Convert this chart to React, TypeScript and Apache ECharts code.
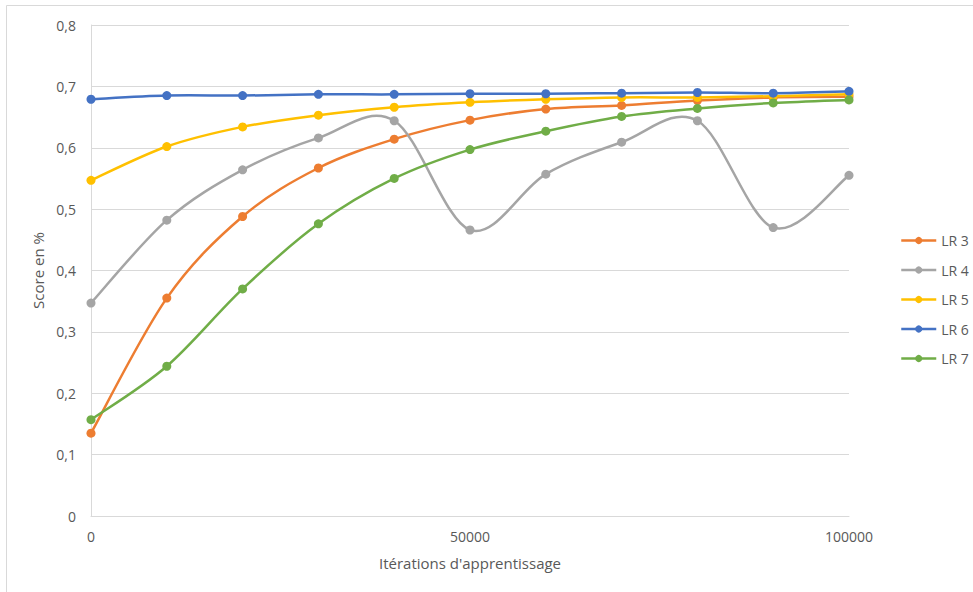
import React, { useEffect, useRef } from "react";
import * as echarts from "echarts";

const iterations = [0, 10000, 20000, 30000, 40000, 50000, 60000, 70000, 80000, 90000, 100000];
const seriesNames = ["LR 3", "LR 4", "LR 5", "LR 6", "LR 7"];
const lr3 = [0.135, 0.355, 0.488, 0.567, 0.614, 0.645, 0.663, 0.669, 0.677, 0.682, 0.683];
const lr4 = [0.347, 0.482, 0.564, 0.616, 0.644, 0.466, 0.557, 0.609, 0.644, 0.47, 0.555];
const lr5 = [0.547, 0.602, 0.634, 0.653, 0.666, 0.674, 0.679, 0.682, 0.682, 0.684, 0.687];
const lr6 = [0.679, 0.685, 0.685, 0.687, 0.687, 0.688, 0.688, 0.689, 0.69, 0.689, 0.692];
const lr7 = [0.157, 0.244, 0.37, 0.476, 0.55, 0.597, 0.627, 0.651, 0.664, 0.673, 0.678];
const colors = ["#ED7D31", "#A5A5A5", "#FFC000", "#4472C4", "#70AD47"];
const xTicks = [0, 50000, 100000];

const FONT = "'Open Sans', sans-serif";
const TXT = "#595959";

export default function App() {
  const ref = useRef<HTMLDivElement>(null);
  useEffect(() => {
    if (!ref.current) return;
    const chart = echarts.init(ref.current, undefined, { renderer: "svg" });
    const all = [lr3, lr4, lr5, lr6, lr7];
    const n = iterations.length;

    const markerSeries = seriesNames.map((name, i) => ({
      name,
      type: "line",
      data: iterations.map((x, j) => [x, all[i][j]]),
      symbol: "circle",
      symbolSize: 9,
      color: colors[i],
      lineStyle: { color: colors[i], width: 2.5, opacity: 0 },
      itemStyle: { color: colors[i] },
      z: 11 + 2 * i,
    }));

    const curveSeries = seriesNames.map((name, i) => ({
      name,
      type: "custom",
      data: iterations.slice(0, n - 1).map((x, j) => [x, all[i][j]]),
      z: 10 + 2 * i,
      silent: true,
      renderItem: (params: any, api: any) => {
        const j = params.dataIndex;
        const pt = (k: number) => {
          const kk = Math.max(0, Math.min(n - 1, k));
          return api.coord([iterations[kk], all[i][kk]]);
        };
        const p0 = pt(j - 1);
        const p1 = pt(j);
        const p2 = pt(j + 1);
        const p3 = pt(j + 2);
        return {
          type: "bezierCurve",
          shape: {
            x1: p1[0],
            y1: p1[1],
            x2: p2[0],
            y2: p2[1],
            cpx1: p1[0] + (p2[0] - p0[0]) / 6,
            cpy1: p1[1] + (p2[1] - p0[1]) / 6,
            cpx2: p2[0] - (p3[0] - p1[0]) / 6,
            cpy2: p2[1] - (p3[1] - p1[1]) / 6,
          },
          style: { fill: "none", stroke: colors[i], lineWidth: 2.5, lineCap: "round" },
        };
      },
    }));

    chart.setOption({
      animation: false,
      backgroundColor: "#ffffff",
      textStyle: { fontFamily: FONT },
      graphic: [
        {
          type: "rect",
          shape: { x: 6.5, y: 5.5, width: 1000, height: 700 },
          style: { fill: "none", stroke: "#d9d9d9", lineWidth: 1 },
          silent: true,
        },
      ],
      grid: { left: 91, right: 124, top: 25, bottom: 76 },
      legend: {
        orient: "vertical",
        left: 900,
        top: 232,
        padding: 0,
        itemWidth: 35,
        itemHeight: 9,
        itemGap: 12.5,
        data: seriesNames,
        lineStyle: { opacity: 1, width: 2.5 },
        textStyle: { color: TXT, fontSize: 14, fontFamily: FONT, lineHeight: 17 },
      },
      xAxis: {
        type: "value",
        min: 0,
        max: 100000,
        interval: 50000,
        name: "Itérations d'apprentissage",
        nameLocation: "middle",
        nameGap: 39,
        nameTextStyle: { color: TXT, fontSize: 15, fontFamily: FONT },
        axisLine: { show: true, lineStyle: { color: "#d9d9d9", width: 1 } },
        axisTick: { show: false },
        splitLine: { show: false },
        axisLabel: {
          color: TXT,
          fontSize: 14,
          fontFamily: FONT,
          margin: 13,
          customValues: xTicks,
          formatter: (v: number) => String(v),
        },
      },
      yAxis: {
        type: "value",
        min: 0,
        max: 0.8,
        interval: 0.1,
        name: "Score en %",
        nameLocation: "middle",
        nameGap: 42,
        nameTextStyle: { color: TXT, fontSize: 15, fontFamily: FONT },
        axisLine: { show: true, lineStyle: { color: "#d9d9d9", width: 1 } },
        axisTick: { show: false },
        splitLine: { show: true, lineStyle: { color: "#d9d9d9", width: 1 } },
        axisLabel: {
          color: TXT,
          fontSize: 14,
          fontFamily: FONT,
          margin: 15,
          formatter: (v: number) => (v === 0 ? "0" : v.toFixed(1).replace(".", ",")),
        },
      },
      series: [...markerSeries, ...curveSeries],
    });
    return () => chart.dispose();
  }, []);
  return (
    <div
      ref={ref}
      style={{ position: "fixed", left: 0, top: 0, width: 973, height: 592 }}
    />
  );
}
